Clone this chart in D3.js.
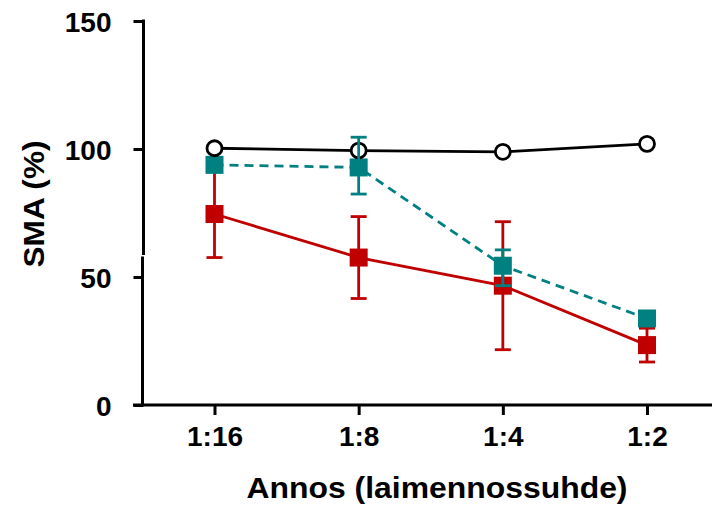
<!DOCTYPE html>
<html>
<head>
<meta charset="utf-8">
<script src="https://cdn.jsdelivr.net/npm/d3@7"></script>
<style>
  body { margin: 0; background: #fff; }
  svg text { font-family: "Liberation Sans", Arial, sans-serif; font-weight: bold; }
</style>
</head>
<body>
<svg id="chart"></svg>
<script>
// Dilution ratios on the x axis
const doses = ['1:16', '1:8', '1:4', '1:2'];
const yTicks = [0, 50, 100, 150];

// Series values (SMA %)
const controlValues = [100.3, 99.4, 98.9, 102.0];
const tealValues = [93.8, 92.8, 54.4, 33.8];
const tealErrUp = [0, 11.8, 6.2, 0];
const tealErrDown = [0, 10.4, 7.8, 0];
const redValues = [74.6, 57.6, 46.6, 23.4];
const redErr = [17, 16, 25, 6.6];

const width = 712, height = 505;
const svg = d3.select('#chart').attr('width', width).attr('height', height);

const x = d3.scalePoint().domain(doses).range([214.5, 647]);
const y = d3.scaleLinear().domain([0, 150]).range([405, 21]);

const axisX = 143.5;
const lw = 2.8;

// y axis with tick labels, domain drawn separately to show the break
const yAxis = svg.append('g')
    .attr('transform', `translate(${axisX},0)`)
    .call(d3.axisLeft(y).tickValues(yTicks).tickSize(10).tickPadding(22));
yAxis.select('.domain').remove();
yAxis.selectAll('line').attr('stroke', '#000').attr('stroke-width', 3);
yAxis.selectAll('text').attr('font-size', 28).attr('fill', '#000').attr('dy', '0.37em');

svg.append('line')
    .attr('x1', axisX).attr('x2', axisX)
    .attr('y1', y(150) - 1.5).attr('y2', 255)
    .attr('stroke', '#000').attr('stroke-width', 3);
svg.append('line')
    .attr('x1', axisX - 1).attr('x2', axisX - 1)
    .attr('y1', 256.5).attr('y2', y(0))
    .attr('stroke', '#000').attr('stroke-width', 3);

// x axis
const xAxis = svg.append('g')
    .attr('transform', `translate(0,${y(0)})`)
    .call(d3.axisBottom(x).tickSize(10).tickPadding(11));
xAxis.select('.domain').remove();
xAxis.selectAll('line').attr('stroke', '#000').attr('stroke-width', 3);
xAxis.selectAll('text').attr('font-size', 28).attr('fill', '#000');

svg.append('line')
    .attr('x1', 133).attr('x2', width)
    .attr('y1', y(0)).attr('y2', y(0))
    .attr('stroke', '#000').attr('stroke-width', 3);

// axis titles
svg.append('text')
    .attr('transform', `translate(44,204) rotate(-90)`)
    .attr('text-anchor', 'middle')
    .attr('font-size', 29)
    .attr('textLength', 127)
    .attr('lengthAdjust', 'spacingAndGlyphs')
    .text('SMA (%)');

svg.append('text')
    .attr('x', 437).attr('y', 498)
    .attr('text-anchor', 'middle')
    .attr('font-size', 29)
    .attr('textLength', 381)
    .attr('lengthAdjust', 'spacingAndGlyphs')
    .text('Annos (laimennossuhde)');

const line = d3.line()
    .x((d, i) => x(doses[i]))
    .y(d => y(d));

const red = '#c00000', teal = '#008080';

// red series
const redG = svg.append('g');
redValues.forEach((v, i) => {
    const cx = x(doses[i]);
    const top = y(v + redErr[i]), bot = y(v - redErr[i]);
    redG.append('line').attr('x1', cx).attr('x2', cx).attr('y1', top).attr('y2', bot)
        .attr('stroke', red).attr('stroke-width', lw);
    [top, bot].forEach(yy => redG.append('line')
        .attr('x1', cx - 8).attr('x2', cx + 8).attr('y1', yy).attr('y2', yy)
        .attr('stroke', red).attr('stroke-width', lw));
});
redG.append('path').datum(redValues).attr('d', line)
    .attr('fill', 'none').attr('stroke', red).attr('stroke-width', lw);
redG.selectAll('rect').data(redValues).join('rect')
    .attr('x', (d, i) => x(doses[i]) - 9).attr('y', d => y(d) - 9)
    .attr('width', 18).attr('height', 18).attr('fill', red);

// teal series
const tealG = svg.append('g');
tealG.append('path').datum(tealValues).attr('d', line)
    .attr('fill', 'none').attr('stroke', teal).attr('stroke-width', lw)
    .attr('stroke-dasharray', '9,6');
tealG.selectAll('rect').data(tealValues).join('rect')
    .attr('x', (d, i) => x(doses[i]) - 9).attr('y', d => y(d) - 9)
    .attr('width', 18).attr('height', 18).attr('fill', teal);

// control series (open circles)
const ctrlG = svg.append('g');
ctrlG.append('path').datum(controlValues).attr('d', line)
    .attr('fill', 'none').attr('stroke', '#000').attr('stroke-width', lw);
ctrlG.selectAll('circle').data(controlValues).join('circle')
    .attr('cx', (d, i) => x(doses[i])).attr('cy', d => y(d))
    .attr('r', 7.5).attr('fill', '#fff').attr('stroke', '#000').attr('stroke-width', lw);

// teal error bars on top
const tealErrG = svg.append('g');
tealValues.forEach((v, i) => {
    if (!tealErrUp[i] && !tealErrDown[i]) return;
    const cx = x(doses[i]);
    const top = y(v + tealErrUp[i]), bot = y(v - tealErrDown[i]);
    tealErrG.append('line').attr('x1', cx).attr('x2', cx).attr('y1', top).attr('y2', bot)
        .attr('stroke', teal).attr('stroke-width', lw);
    [top, bot].forEach(yy => tealErrG.append('line')
        .attr('x1', cx - 8).attr('x2', cx + 8).attr('y1', yy).attr('y2', yy)
        .attr('stroke', teal).attr('stroke-width', lw));
});
</script>
</body>
</html>
